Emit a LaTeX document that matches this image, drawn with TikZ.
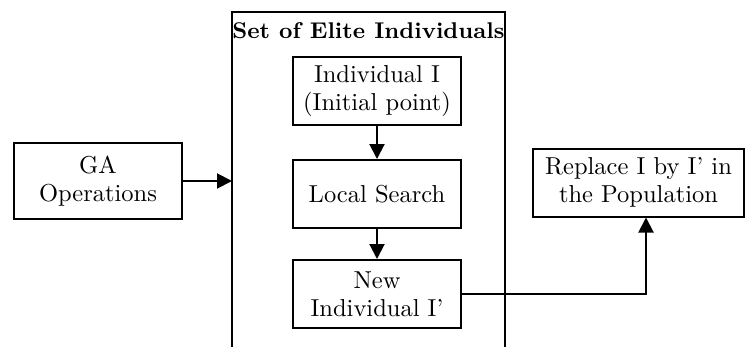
\documentclass[tikz,border=0pt]{standalone}
\usetikzlibrary{arrows.meta}
\begin{document}
\begin{tikzpicture}[x=0.4pt,y=-0.4pt,
  line width=0.8pt,
  every node/.style={font=\fontsize{9.8}{11.2}\selectfont, align=center, inner sep=0pt},
  box/.style={draw, rectangle, minimum width=67.2pt, minimum height=27.2pt},
  conn/.style={-{Triangle[length=6pt,width=6pt]}}]
\useasboundingbox (0,0) rectangle (746,347);
% left input block
\node[box, minimum height=30.4pt] (ga) at (98,181) {GA\\Operations};
% container of elite individuals (open at the bottom)
\coordinate (cbl) at (232,347);
\coordinate (ctl) at (232,12);
\coordinate (ctr) at (505,12);
\coordinate (cbr) at (505,347);
\draw (cbl) -- (ctl) -- (ctr) -- (cbr);
\node[font=\fontsize{9.1}{11.2}\selectfont\bfseries] (title) at (368.5,31) {Set of Elite Individuals};
% inner steps
\node[box] (ind) at (377,91) {Individual I\\(Initial point)};
\node[box] (ls) at (377,194) {Local Search};
\node[box] (ni) at (377,294) {New\\Individual I’};
% output block
\node[box, minimum width=84.4pt] (rep) at (638.5,182.5) {Replace I by I’ in\\the Population};
% connectors
\coordinate (cin) at (232,181);
\draw[conn] (ga.east |- cin) -- (cin);
\draw[conn] (ind) -- (ls);
\draw[conn] (ls) -- (ni);
\coordinate (turn) at (646,294);
\draw[conn] (ni.east |- turn) -- (turn) -- (turn |- rep.south);
\end{tikzpicture}
\end{document}
